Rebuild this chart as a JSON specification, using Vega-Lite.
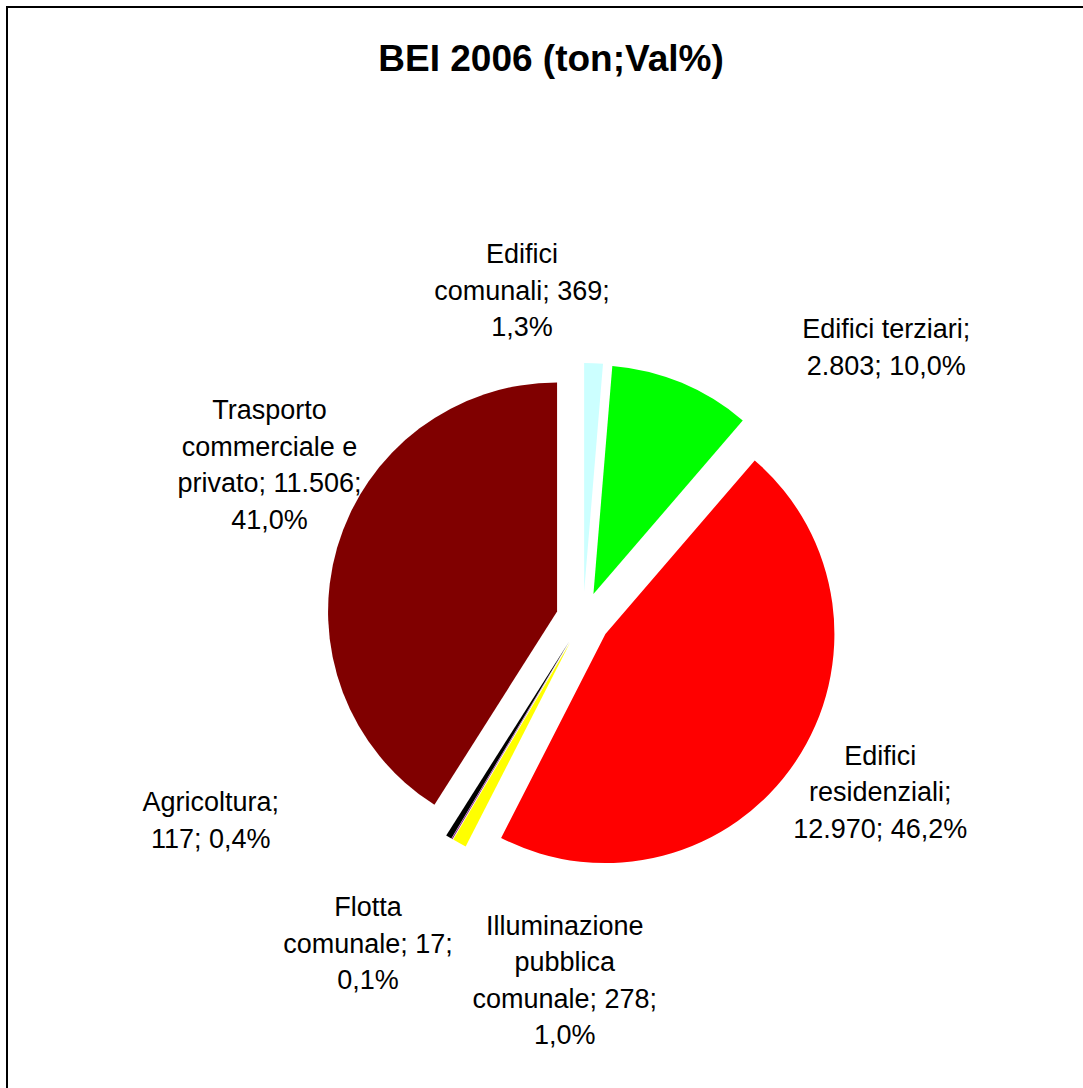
{
  "$schema": "https://vega.github.io/schema/vega-lite/v6.json",
  "width": 1152,
  "height": 1224,
  "autosize": {"type": "none"},
  "padding": {"left": 7, "top": 7, "right": 0, "bottom": 0},
  "background": "white",
  "view": {"stroke": "black", "strokeWidth": 2, "fill": "white"},
  "config": {
    "view": {"stroke": "black", "strokeWidth": 2},
    "font": "Liberation Sans"
  },
  "title": {
    "text": "BEI 2006 (ton;Val%)",
    "font": "Liberation Sans",
    "fontSize": 37,
    "fontWeight": "bold",
    "color": "black",
    "anchor": "middle",
    "frame": "group",
    "baseline": "alphabetic",
    "offset": -67,
    "dx": -32,
    "dy": 34
  },
  "data": {
    "values": [
      {"ord": 1, "name": "Edifici comunali", "value": 369, "label": "Edifici\ncomunali; 369;\n1,3%"},
      {"ord": 2, "name": "Edifici terziari", "value": 2803, "label": "Edifici terziari;\n2.803; 10,0%"},
      {"ord": 3, "name": "Edifici residenziali", "value": 12970, "label": "Edifici\nresidenziali;\n12.970; 46,2%"},
      {"ord": 4, "name": "Illuminazione pubblica comunale", "value": 278, "label": "Illuminazione\npubblica\ncomunale; 278;\n1,0%"},
      {"ord": 5, "name": "Flotta comunale", "value": 17, "label": "Flotta\ncomunale; 17;\n0,1%"},
      {"ord": 6, "name": "Agricoltura", "value": 117, "label": "Agricoltura;\n117; 0,4%"},
      {"ord": 7, "name": "Trasporto commerciale e privato", "value": 11506, "label": "Trasporto\ncommerciale e\nprivato; 11.506;\n41,0%"}
    ]
  },
  "encoding": {
    "theta": {"field": "value", "type": "quantitative", "stack": true},
    "order": {"field": "ord", "type": "quantitative"}
  },
  "layer": [
    {
      "mark": {
        "type": "arc",
        "outerRadius": 229,
        "xOffset": {"expr": "27*sin((scale('theta', datum.value_start)+scale('theta', datum.value_end))/2)"},
        "yOffset": {"expr": "-27*cos((scale('theta', datum.value_start)+scale('theta', datum.value_end))/2)"}
      },
      "encoding": {
        "color": {
          "field": "name",
          "type": "nominal",
          "legend": null,
          "scale": {
            "domain": ["Edifici comunali", "Edifici terziari", "Edifici residenziali", "Illuminazione pubblica comunale", "Flotta comunale", "Agricoltura", "Trasporto commerciale e privato"],
            "range": ["#CCFFFF", "#00FF00", "#FF0000", "#FFFF00", "#800080", "#000000", "#800000"]
          }
        }
      }
    },
    {
      "mark": {
        "type": "text",
        "radius": 340,
        "fontSize": 27,
        "lineHeight": 36.5,
        "lineBreak": "\n",
        "align": "center",
        "baseline": "middle",
        "color": "black",
        "dx": {"expr": "[-75,172,15,146,-41,-194,13][datum.ord-1]"},
        "dy": {"expr": "[-24,25,-52,10,-3,-105,-113][datum.ord-1]"}
      },
      "encoding": {
        "text": {"field": "label", "type": "nominal"}
      }
    }
  ]
}
